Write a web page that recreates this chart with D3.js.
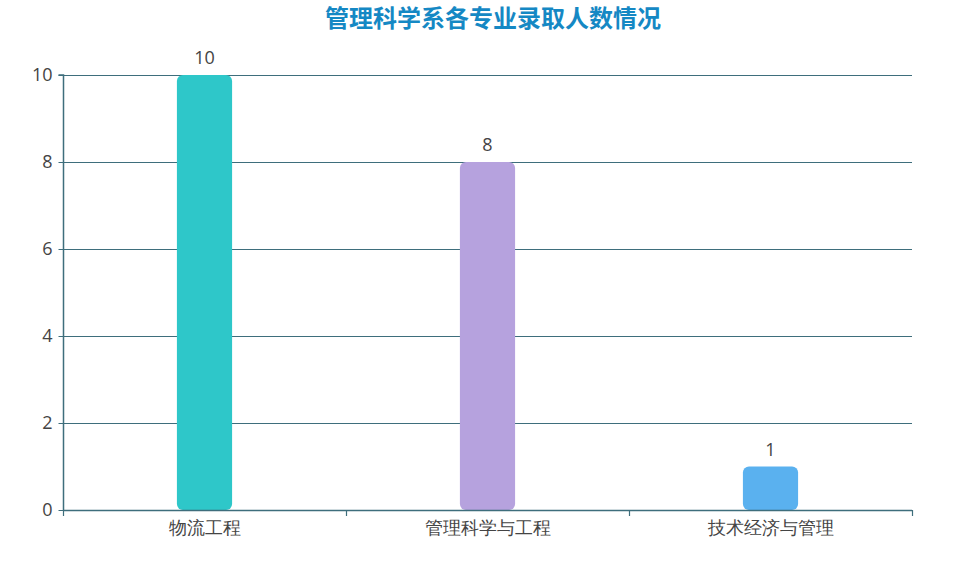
<!DOCTYPE html>
<html><head><meta charset="utf-8">
<script src="https://cdn.jsdelivr.net/npm/d3@7"></script>
<style>body{margin:0;background:#fff;}svg{display:block;font-family:"Noto Sans CJK SC","Microsoft YaHei",sans-serif;}</style>
</head><body>
<svg id="c" width="979" height="565"></svg>
<script>
const title = "管理科学系各专业录取人数情况";
const categories = ["物流工程", "管理科学与工程", "技术经济与管理"];
const values = [10, 8, 1];
const colors = ["#2ec7c9", "#b6a2de", "#5ab1ef"];
const yTicks = [0, 2, 4, 6, 8, 10];

const svg = d3.select("#c");
const L = 63, R = 912, T = 75, B = 510;
const axisColor = "#3e6e7c";

const x = d3.scaleBand().domain(categories).range([L, R]);
const y = d3.scaleLinear().domain([0, 10]).range([B, T]);

svg.append("text").attr("x", 493).attr("y", 27).attr("text-anchor", "middle")
  .attr("font-size", 24).attr("font-weight", "bold").attr("fill", "#1588c4").text(title);

// grid
svg.append("g").selectAll("line").data(yTicks.filter(d => d > 0)).join("line")
  .attr("x1", L).attr("x2", R).attr("y1", d => y(d) + 0.5).attr("y2", d => y(d) + 0.5)
  .attr("stroke", axisColor).attr("stroke-width", 1);

// bars
const bw = x.bandwidth() * 0.195;
svg.append("g").selectAll("rect").data(values).join("rect")
  .attr("x", (d, i) => x(categories[i]) + x.bandwidth() / 2 - bw / 2)
  .attr("y", d => y(d))
  .attr("width", bw)
  .attr("height", d => B - y(d))
  .attr("rx", 6).attr("ry", 6)
  .attr("fill", (d, i) => colors[i]);

// value labels
svg.append("g").selectAll("text").data(values).join("text")
  .attr("x", (d, i) => x(categories[i]) + x.bandwidth() / 2)
  .attr("y", d => y(d) - 11)
  .attr("text-anchor", "middle").attr("font-size", 18).attr("fill", "#444")
  .attr("font-family", "Open Sans, sans-serif")
  .text(d => d);

// y axis
const yAxis = svg.append("g").attr("transform", `translate(${L + 0.5},0)`)
  .call(d3.axisLeft(y).tickValues(yTicks).tickSize(5).tickPadding(6));
yAxis.select(".domain").attr("stroke", axisColor).attr("d", `M-5,${T}H0V${B}`).attr("stroke-width", 1.5);
yAxis.selectAll(".tick line").attr("stroke", axisColor);
yAxis.selectAll(".tick text").attr("font-size", 18).attr("fill", "#444").attr("font-family", "Open Sans, sans-serif");

// x axis
const xAxis = svg.append("g").attr("transform", `translate(0,${B + 0.5})`)
  .call(d3.axisBottom(x).tickSize(0).tickPadding(11));
xAxis.select(".domain").attr("stroke", axisColor).attr("stroke-width", 1.5).attr("d", `M${L},0H${R}`);
xAxis.selectAll(".tick text").attr("font-size", 18).attr("fill", "#444");
// band boundary ticks
const bounds = categories.map(c => x(c)).concat([R]);
svg.append("g").selectAll("line").data(bounds).join("line")
  .attr("x1", d => d + 0.5).attr("x2", d => d + 0.5).attr("y1", B).attr("y2", B + 6)
  .attr("stroke", axisColor).attr("stroke-width", 1.2);
</script>
</body></html>
